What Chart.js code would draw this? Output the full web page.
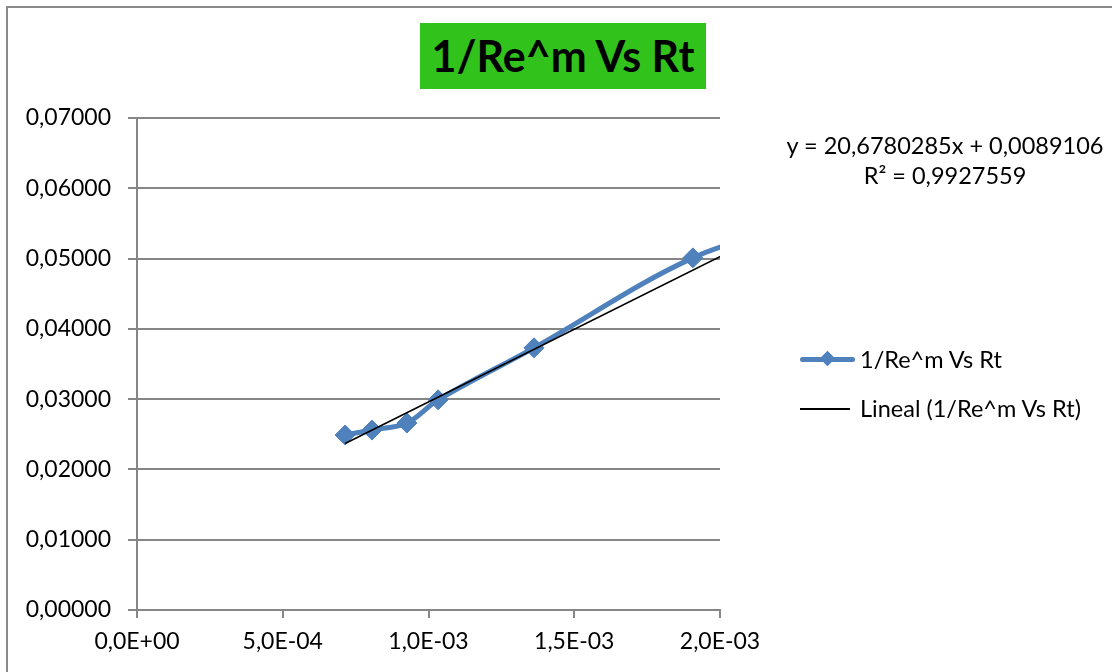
<!DOCTYPE html>
<html>
<head>
<meta charset="utf-8">
<script src="https://cdn.jsdelivr.net/npm/chart.js@4/dist/chart.umd.min.js"></script>
<style>
    body { margin: 0; background: #fff; font-family: Lato, sans-serif; }
    #marco { position: absolute; left: 0; top: 0; width: 1112px; height: 672px; overflow: hidden; }
    #borde { position: absolute; left: 6px; top: 6px; width: 1200px; height: 800px; border: 2px solid #8a8a8a; }
    #titulo {
        position: absolute; left: 420px; top: 23px; width: 286px; height: 66px;
        background: #31c21c; color: #000; font-weight: bold; font-size: 43px;
        text-align: center; line-height: 66px;
    }
    #ecuacion {
        position: absolute; left: 745px; top: 130px; width: 400px;
        text-align: center; font-size: 23.5px; line-height: 30px; color: #000;
    }
    .leyenda { position: absolute; left: 800px; height: 30px; font-size: 23.5px; color: #000; }
    .leyenda .linea { position: absolute; left: 0; width: 55px; }
    .leyenda .texto { position: absolute; left: 60px; top: 0; white-space: nowrap; line-height: 30px; }
    #rombo {
        position: absolute; left: 22px; top: 9px; width: 11px; height: 11px;
        background: #4f81bd; transform: rotate(45deg);
    }
</style>
</head>
<body>
<div id="marco">
    <div id="borde"></div>
    <canvas id="graficoRe" width="1112" height="672"></canvas>
    <div id="titulo">1/Re^m Vs Rt</div>
    <div id="ecuacion">y = 20,6780285x + 0,0089106<br>R² = 0,9927559</div>
    <div class="leyenda" style="top:344px;">
        <div class="linea" style="top:13px; height:5px; background:#4f81bd; border-radius:3px;"></div>
        <div id="rombo"></div>
        <div class="texto">1/Re^m Vs Rt</div>
    </div>
    <div class="leyenda" style="top:393px;">
        <div class="linea" style="top:15px; height:2px; background:#000; width:50px;"></div>
        <div class="texto">Lineal (1/Re^m Vs Rt)</div>
    </div>
</div>
<script>
// Datos
const rt = [0.000714, 0.000806, 0.000926, 0.001033, 0.001362, 0.001907, 0.0023];
const invRe = [0.0249, 0.0256, 0.0266, 0.0299, 0.0373, 0.0501, 0.0551];

// Linea de tendencia (extremos)
const tendX = [0.000714, 0.0023];
const tendY = [0.02368, 0.05647];

const ticksY = [0, 0.01, 0.02, 0.03, 0.04, 0.05, 0.06, 0.07];
const ticksX = [0, 0.0005, 0.001, 0.0015, 0.002];

function formatoY(v) {
    return v.toFixed(5).replace('.', ',');
}

function formatoX(v) {
    const partes = v.toExponential(1).split('e');
    let exp = parseInt(partes[1]);
    const signo = exp < 0 ? '-' : '+';
    exp = Math.abs(exp);
    return partes[0].replace('.', ',') + 'E' + signo + (exp < 10 ? '0' + exp : exp);
}

const gris = '#868686';
const ctx = document.getElementById('graficoRe').getContext('2d');

new Chart(ctx, {
    type: 'line',
    data: {
        datasets: [
            {
                label: 'Lineal (1/Re^m Vs Rt)',
                data: tendX.map((x, i) => ({ x: x, y: tendY[i] })),
                borderColor: '#000',
                borderWidth: 1.6,
                pointRadius: 0,
                tension: 0,
                order: 0
            },
            {
                label: '1/Re^m Vs Rt',
                data: rt.map((x, i) => ({ x: x, y: invRe[i] })),
                borderColor: '#4f81bd',
                backgroundColor: '#4f81bd',
                borderWidth: 5,
                pointStyle: 'rectRot',
                pointRadius: 10,
                pointBorderWidth: 1,
                pointBackgroundColor: '#4f81bd',
                pointBorderColor: '#4f81bd',
                tension: 0.35,
                order: 1
            }
        ]
    },
    options: {
        responsive: false,
        animation: false,
        layout: { padding: { left: 0, top: 118, right: 392, bottom: 0 } },
        elements: { line: { capBezierPoints: false } },
        plugins: {
            legend: { display: false },
            title: { display: false },
            tooltip: { enabled: false }
        },
        scales: {
            x: {
                type: 'linear',
                min: 0,
                max: 0.002,
                afterBuildTicks: (eje) => { eje.ticks = ticksX.map(v => ({ value: v })); },
                afterFit: (eje) => { eje.height = 62; },
                grid: { drawOnChartArea: false, drawTicks: true, tickLength: 8, color: gris, lineWidth: 2 },
                border: { color: gris, width: 2 },
                ticks: {
                    color: '#000',
                    padding: 10,
                    maxRotation: 0,
                    font: { family: 'Lato', size: 23 },
                    callback: (v) => formatoX(v)
                }
            },
            y: {
                min: 0,
                max: 0.07,
                afterBuildTicks: (eje) => { eje.ticks = ticksY.map(v => ({ value: v })); },
                afterFit: (eje) => { eje.width = 137; },
                grid: { color: gris, lineWidth: 2, tickLength: 9 },
                border: { color: gris, width: 2 },
                ticks: {
                    color: '#000',
                    padding: 17,
                    font: { family: 'Lato', size: 23 },
                    callback: (v) => formatoY(v)
                }
            }
        }
    }
});
</script>
</body>
</html>
